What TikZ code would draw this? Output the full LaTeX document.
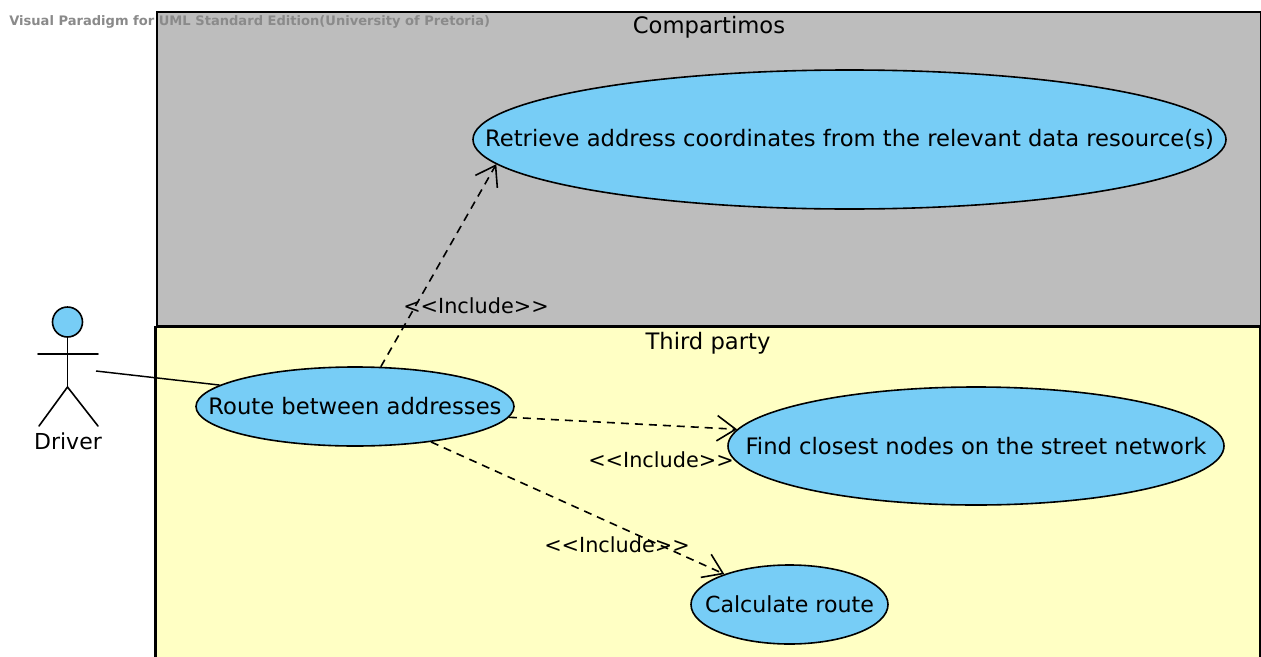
\documentclass[tikz,border=0pt]{standalone}
\usepackage{fontspec}
\setmainfont{DejaVu Sans}
\usetikzlibrary{shapes.geometric,arrows.meta}
\definecolor{ucblue}{HTML}{77CDF6}
\definecolor{pkggray}{HTML}{BDBDBD}
\definecolor{pkgyellow}{HTML}{FFFFC4}
\definecolor{wmgray}{HTML}{8A8A8A}
\tikzset{
  usecase/.style={ellipse,draw=black,fill=ucblue,line width=1.2pt,inner sep=0pt,font=\fontsize{17}{20}\selectfont},
  pkg/.style={draw=black,line width=1.5pt},
  include/.style={dashed,dash pattern=on 6pt off 4.5pt,line width=1.2pt,-{Straight Barb[length=14pt,width=19pt,line width=1.2pt]}},
  assoc/.style={line width=1.1pt},
  lbl/.style={font=\fontsize{15.6}{18}\selectfont,inner sep=0pt},
  pkgtitle/.style={font=\fontsize{17}{20}\selectfont,inner sep=0pt},
  limb/.style={line width=1.2pt,line cap=round}
}
\begin{document}
\begin{tikzpicture}[x=0.75pt,y=-0.75pt]
\useasboundingbox (0,0) rectangle (1261,657);
\fill[white] (0,0) rectangle (1261,657);
\draw[pkg,fill=pkggray] (157,12) rectangle (1260.5,326);
\draw[pkg,fill=pkgyellow,line width=1.8pt] (155.5,327) rectangle (1260.5,670);
\node[pkgtitle] (tc) at (709,27.5) {Compartimos};
\node[pkgtitle] (tt) at (708,343.5) {Third party};
\node[anchor=west,inner sep=0pt,text=wmgray,font=\fontsize{9.8}{12}\selectfont\bfseries] (wm) at (9,22) {Visual Paradigm for UML Standard Edition(University of Pretoria)};
% use cases
\node[usecase,minimum width=564.75pt,minimum height=104.25pt] (retrieve) at (849.5,139.5) {\clap{\raisebox{-0.75pt}{Retrieve address coordinates from the relevant data resource(s)}}};
\node[usecase,minimum width=238.5pt,minimum height=59.25pt] (route) at (355,406.5) {\clap{Route between addresses}};
\node[usecase,minimum width=372pt,minimum height=88.5pt] (find) at (976,446) {\clap{Find closest nodes on the street network}};
\node[usecase,font=\fontsize{16.6}{20}\selectfont,minimum width=147.75pt,minimum height=59.25pt] (calc) at (789.5,604.5) {\clap{Calculate route}};
% actor
\node[circle,draw=black,fill=ucblue,line width=1.2pt,minimum size=22.5pt,inner sep=0pt] (head) at (67.5,322) {};
\coordinate (hip) at (67.5,387);
\coordinate (armL) at (38,354);
\coordinate (armR) at (98,354);
\coordinate (footL) at (39,426);
\coordinate (footR) at (98,426);
\coordinate (hand) at (96,371);
\draw[limb] (head.south) -- (hip);
\draw[limb] (armL) -- (armR);
\draw[limb] (footL) -- (hip) -- (footR);
\node[font=\fontsize{16.5}{19}\selectfont,inner sep=0pt] (driver) at (68,441) {Driver};
% connectors
\draw[assoc] (hand) -- (route.171.1);
\draw[include] (route.57.3) -- (retrieve.184.34);
\draw[include] (route.356.3) -- (find.176.6);
\draw[include] (route.335.6) -- (calc.155.1);
% labels
\node[lbl] (l1) at (476,306) {<{}<Include>{}>};
\node[lbl] (l2) at (661,460) {<{}<Include>{}>};
\node[lbl] (l3) at (617,545) {<{}<Include>{}>};
\end{tikzpicture}
\end{document}
